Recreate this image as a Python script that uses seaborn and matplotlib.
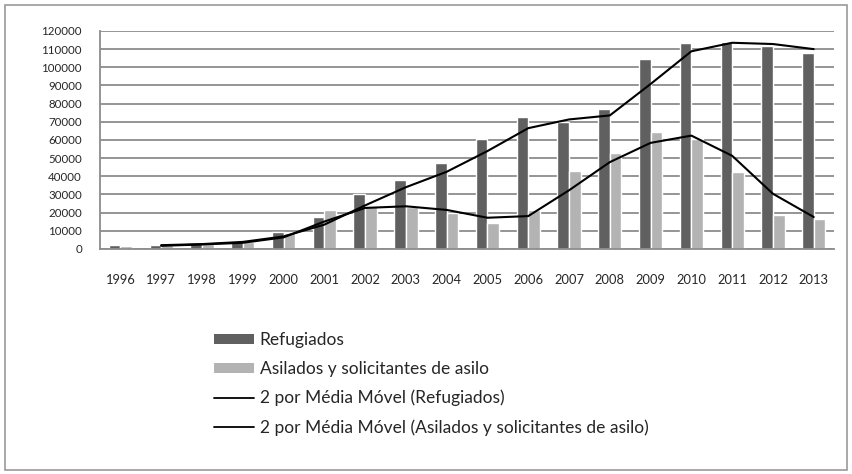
import matplotlib
matplotlib.use('Agg')
import matplotlib.pyplot as plt
from matplotlib.patches import Patch, Rectangle
from matplotlib.lines import Line2D
import seaborn as sns
import numpy as np
import pandas as pd

years = [str(y) for y in range(1996, 2014)]
refugiados = [2000, 2200, 3200, 4600, 9200, 17500, 30400, 37700, 47300, 60400,
              72700, 69900, 77100, 104400, 113200, 113700, 111900, 108000]
asilados = [1500, 2000, 3000, 3800, 9000, 21200, 23900, 23000, 20000, 14500,
            21700, 42900, 52600, 64200, 60500, 42100, 18600, 16600]
# 2-period moving averages as drawn (start in 1997)
mm_refugiados = [2100, 2700, 3900, 6900, 13400, 24000, 34000, 42500, 53900,
                 66500, 71300, 73500, 90800, 108800, 113500, 112800, 110000]
mm_asilados = [1750, 2500, 3400, 6400, 15100, 22600, 23500, 21500, 17200,
               18100, 32300, 47800, 58400, 62400, 51300, 30400, 17600]

lbl_ref = 'Refugiados'
lbl_asi = 'Asilados y solicitantes de asilo'
lbl_mm_ref = '2 por Média Móvel (Refugiados)'
lbl_mm_asi = '2 por Média Móvel (Asilados y solicitantes de asilo)'

dark = '#606060'
light = '#b3b3b3'
grid_c = '#8c8c8c'

sns.set_style('white')
plt.rcParams['font.family'] = ['Lato', 'DejaVu Sans']

df = pd.DataFrame({
    'year': years * 2,
    'value': refugiados + asilados,
    'serie': [lbl_ref] * len(years) + [lbl_asi] * len(years),
})

fig = plt.figure(figsize=(8.52, 4.74), dpi=100)
ax = fig.add_axes([0.1174, 0.4747, 0.8616, 0.46])

sns.barplot(data=df, x='year', y='value', hue='serie', palette=[dark, light],
            width=0.57, saturation=1, ax=ax, legend=False)

idx = np.arange(1, len(years))
sns.lineplot(x=idx, y=mm_refugiados, color='black', linewidth=1.5, ax=ax)
sns.lineplot(x=idx, y=mm_asilados, color='black', linewidth=1.5, ax=ax)

ax.set_xlim(-0.5, len(years) - 0.5)
ax.set_ylim(0, 120000)
ax.set_yticks(np.arange(0, 120001, 10000))
ax.set_yticklabels([str(v) for v in range(0, 120001, 10000)], fontsize=8.3)
ax.set_xticks(np.arange(len(years)))
ax.set_xticklabels(years, fontsize=9.3)
ax.set_xticks(np.arange(-0.5, len(years), 1), minor=True)
ax.tick_params(axis='x', which='major', length=0, pad=18)
ax.tick_params(axis='x', which='minor', length=5, color=grid_c, width=1)
ax.tick_params(axis='y', length=4, color=grid_c, width=1, pad=9)
ax.set_xlabel('')
ax.set_ylabel('')
ax.yaxis.grid(True, color=grid_c, linewidth=1.3)
ax.set_axisbelow(True)
for s in ['top', 'right']:
    ax.spines[s].set_visible(False)
for s in ['left', 'bottom']:
    ax.spines[s].set_color(grid_c)
    ax.spines[s].set_linewidth(1.3)

handles = [
    Patch(facecolor=dark, edgecolor='none'),
    Patch(facecolor=light, edgecolor='none'),
    Line2D([0], [0], color='black', linewidth=1.3),
    Line2D([0], [0], color='black', linewidth=1.3),
]
fig.legend(handles, [lbl_ref, lbl_asi, lbl_mm_ref, lbl_mm_asi],
           loc='upper left', bbox_to_anchor=(0.2425, 0.3143), frameon=False,
           fontsize=12.5, handlelength=2.35, handleheight=0.53,
           handletextpad=0.3, labelspacing=0.74, borderaxespad=0)

fig.patches.append(Rectangle((0.006, 0.008), 0.988, 0.982, transform=fig.transFigure,
                             fill=False, edgecolor='#9a9a9a', linewidth=1.2))

plt.savefig('out.png', dpi=100)
